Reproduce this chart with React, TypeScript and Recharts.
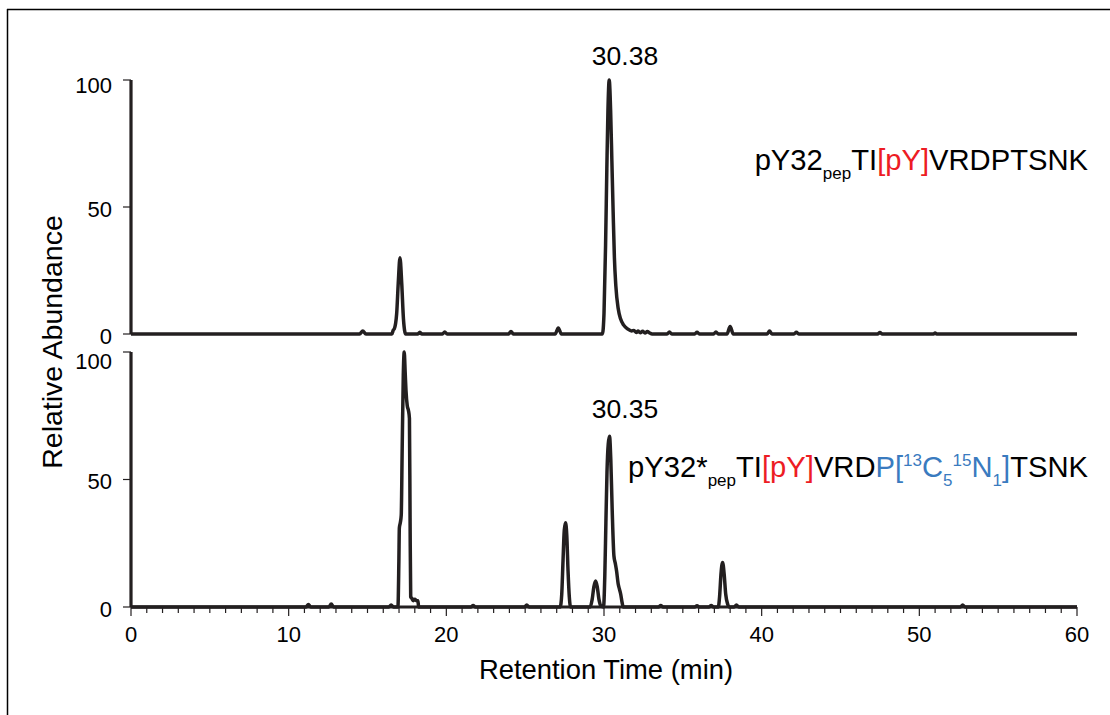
import { LineChart, Line, XAxis, YAxis } from 'recharts';

const font = '"Liberation Sans", Arial, Helvetica, sans-serif';
const ink = '#231f20';
const red = '#ed1c24';
const blue = '#3a7bbf';

// y axis ticks (same for both traces)
const yTicks = [0, 50, 100];
// x axis: labelled every 10 min, minor tick every minute
const xLabels = [0, 10, 20, 30, 40, 50, 60];
const xTicks = Array.from({ length: 61 }, (_, i) => i);

// pY32pep trace, retention time (min) / relative abundance (%)
const topTime = [
  0, 14.5, 14.7, 14.9, 16.55, 16.63, 16.7, 16.85, 16.95, 17.06, 17.17, 17.28, 17.42,
  18.2, 18.32, 18.45, 19.75, 19.9, 20.05, 23.95, 24.1, 24.25, 26.9, 27.1, 27.3,
  29.9, 30.0, 30.1, 30.18, 30.25, 30.33, 30.42, 30.5, 30.58, 30.66, 30.75, 30.9, 31.05,
  31.25, 31.5, 31.75, 31.9, 32.05, 32.15, 32.3, 32.45, 32.6, 32.75, 32.9, 33.05,
  34.0, 34.15, 34.3, 35.75, 35.9, 36.05, 36.95, 37.1, 37.25, 37.8, 38.0, 38.2,
  40.35, 40.5, 40.65, 42.05, 42.2, 42.35, 47.35, 47.5, 47.65, 50.9, 51.0, 51.1, 60,
];
const topValue = [
  0, 0, 1.2, 0, 0, 1.5, 2, 8, 20, 30, 20, 6, 0,
  0, 0.7, 0, 0, 0.8, 0, 0, 1, 0, 0, 2.4, 0,
  0, 8, 35, 65, 88, 100, 88, 68, 48, 30, 19, 10, 6,
  3.5, 2, 1.2, 1.4, 0.6, 1.2, 0.5, 1.1, 0.4, 1, 0.4, 0,
  0, 0.8, 0, 0, 0.7, 0, 0, 0.8, 0, 0, 3, 0,
  0, 1.2, 0, 0, 0.7, 0, 0, 0.6, 0, 0, 0.4, 0, 0,
];

// pY32*pep (heavy) trace
const botTime = [
  0, 11.1, 11.25, 11.4, 12.55, 12.7, 12.85, 16.35, 16.5, 16.65,
  16.93, 16.99, 17.02, 17.08, 17.14, 17.2, 17.27, 17.33, 17.39, 17.44, 17.52, 17.6, 17.66,
  17.7, 17.74, 17.8, 17.9, 18.0, 18.1, 18.2, 18.24, 21.55, 21.7, 21.85, 24.95, 25.1, 25.25,
  27.22, 27.32, 27.4, 27.48, 27.56, 27.64, 27.72, 27.8, 27.88,
  29.12, 29.25, 29.36, 29.47, 29.57, 29.68, 29.8,
  29.97, 30.05, 30.12, 30.19, 30.27, 30.35, 30.43, 30.52, 30.63, 30.72, 30.8, 30.9, 30.98,
  31.06, 31.14, 31.22, 33.45, 33.6, 33.75, 35.75, 35.9, 36.05, 36.65, 36.8, 36.95,
  37.25, 37.33, 37.42, 37.52, 37.62, 37.72, 37.85, 37.95, 38.25, 38.4, 38.55,
  52.6, 52.75, 52.9, 60,
];
const botValue = [
  0, 0, 1, 0, 0, 1.2, 0, 0, 0.8, 0,
  0, 18, 31, 33, 36, 62, 91, 100, 92, 85, 79, 77, 74,
  35, 4, 3.5, 2.5, 3, 2.5, 2.5, 0, 0, 0.6, 0, 0, 0.8, 0,
  0, 5, 18, 30, 33, 28, 14, 4, 0,
  0, 3, 8, 10.2, 8, 3, 0.5,
  0, 12, 33, 53, 64, 67, 58, 38, 20, 17, 14, 9, 7,
  5, 2, 0, 0, 0.6, 0, 0, 0.5, 0, 0, 0.6, 0,
  0, 4, 13, 17.5, 13, 5, 1, 0, 0, 0.8, 0,
  0, 0.8, 0, 0,
];

const topRows = topTime.map((t, i) => ({ t, v: topValue[i] }));
const botRows = botTime.map((t, i) => ({ t, v: botValue[i] }));

function YTick(props: any) {
  const { x, y, payload, topShift } = props;
  const shift = payload.value === 100 ? topShift : 2;
  return (
    <text x={x} y={y + shift} dy="0.36em" textAnchor="end" fontSize={22} fontFamily={font} fill="#000">
      {payload.value}
    </text>
  );
}

function XTick(props: any) {
  const { x, y, payload } = props;
  const major = xLabels.includes(payload.value);
  return (
    <g>
      <line x1={x} x2={x} y1={y} y2={y + (major ? 9 : 6)} stroke={ink} strokeWidth={1.2} />
      {major && (
        <text x={x} y={y + 35} textAnchor="middle" fontSize={22} fontFamily={font} fill="#000">
          {payload.value}
        </text>
      )}
    </g>
  );
}

const axisLine = { stroke: ink, strokeWidth: 3.2 };
const tickLine = { stroke: ink, strokeWidth: 1.2 };

export default function App() {
  return (
    <div style={{ position: 'absolute', left: 0, top: 0, width: 1110, height: 715, background: '#fff' }}>
      <div style={{ position: 'absolute', left: 0, top: 0 }}>
        <LineChart width={1110} height={365} data={topRows} margin={{ top: 80, right: 33, bottom: 31, left: 71 }}>
          <XAxis type="number" dataKey="t" domain={[0, 60]} hide />
          <YAxis
            type="number"
            domain={[0, 100]}
            ticks={yTicks}
            width={60}
            tickSize={8}
            tickMargin={11}
            axisLine={axisLine}
            tickLine={tickLine}
            tick={(p: any) => <YTick {...p} topShift={5} />}
          />
          <Line
            dataKey="v"
            type="monotone"
            stroke={ink}
            strokeWidth={3.5}
            dot={false}
            activeDot={false}
            isAnimationActive={false}
          />
        </LineChart>
      </div>
      <div style={{ position: 'absolute', left: 0, top: 340 }}>
        <LineChart width={1110} height={375} data={botRows} margin={{ top: 12, right: 33, bottom: 8, left: 71 }}>
          <XAxis
            type="number"
            dataKey="t"
            domain={[0, 60]}
            ticks={xTicks}
            interval={0}
            height={100}
            tickSize={0}
            tickMargin={0}
            axisLine={axisLine}
            tickLine={false}
            tick={<XTick />}
          />
          <YAxis
            type="number"
            domain={[0, 100]}
            ticks={yTicks}
            width={60}
            tickSize={8}
            tickMargin={11}
            axisLine={axisLine}
            tickLine={tickLine}
            tick={(p: any) => <YTick {...p} topShift={9} />}
          />
          <Line
            dataKey="v"
            type="monotone"
            stroke={ink}
            strokeWidth={3.5}
            dot={false}
            activeDot={false}
            isAnimationActive={false}
          />
        </LineChart>
      </div>
      <svg
        width={1110}
        height={715}
        style={{ position: 'absolute', left: 0, top: 0, pointerEvents: 'none' }}
        fontFamily={font}
      >
        <line x1={7} x2={1110} y1={9.5} y2={9.5} stroke="#000" strokeWidth={1.5} />
        <line x1={7.5} x2={7.5} y1={9} y2={715} stroke="#000" strokeWidth={1.5} />

        <text x={625} y={65} textAnchor="middle" fontSize={26.5} fill="#000">30.38</text>
        <text x={625} y={418} textAnchor="middle" fontSize={26.5} fill="#000">30.35</text>

        <text x={1088} y={170} textAnchor="end" fontSize={29.2} fill="#000">
          <tspan>pY32</tspan>
          <tspan fontSize={17} dy={9}>pep</tspan>
          <tspan dy={-9}>TI</tspan>
          <tspan fill={red}>[pY]</tspan>
          <tspan>VRDPTSNK</tspan>
        </text>

        <text x={1088} y={477} textAnchor="end" fontSize={29.2} fill="#000">
          <tspan>pY32*</tspan>
          <tspan fontSize={17} dy={9}>pep</tspan>
          <tspan dy={-9}>TI</tspan>
          <tspan fill={red}>[pY]</tspan>
          <tspan>VRD</tspan>
          <tspan fill={blue}>P[</tspan>
          <tspan fill={blue} fontSize={17} dy={-11}>13</tspan>
          <tspan fill={blue} dy={11}>C</tspan>
          <tspan fill={blue} fontSize={17} dy={9}>5</tspan>
          <tspan fill={blue} fontSize={17} dy={-20}>15</tspan>
          <tspan fill={blue} dy={11}>N</tspan>
          <tspan fill={blue} fontSize={17} dy={9}>1</tspan>
          <tspan fill={blue} dy={-9}>]</tspan>
          <tspan>TSNK</tspan>
        </text>

        <text x={606} y={679} textAnchor="middle" fontSize={27.4} fill="#000">Retention Time (min)</text>
        <text transform="translate(62,342) rotate(-90)" textAnchor="middle" fontSize={28.5} fill="#000">
          Relative Abundance
        </text>
      </svg>
    </div>
  );
}
